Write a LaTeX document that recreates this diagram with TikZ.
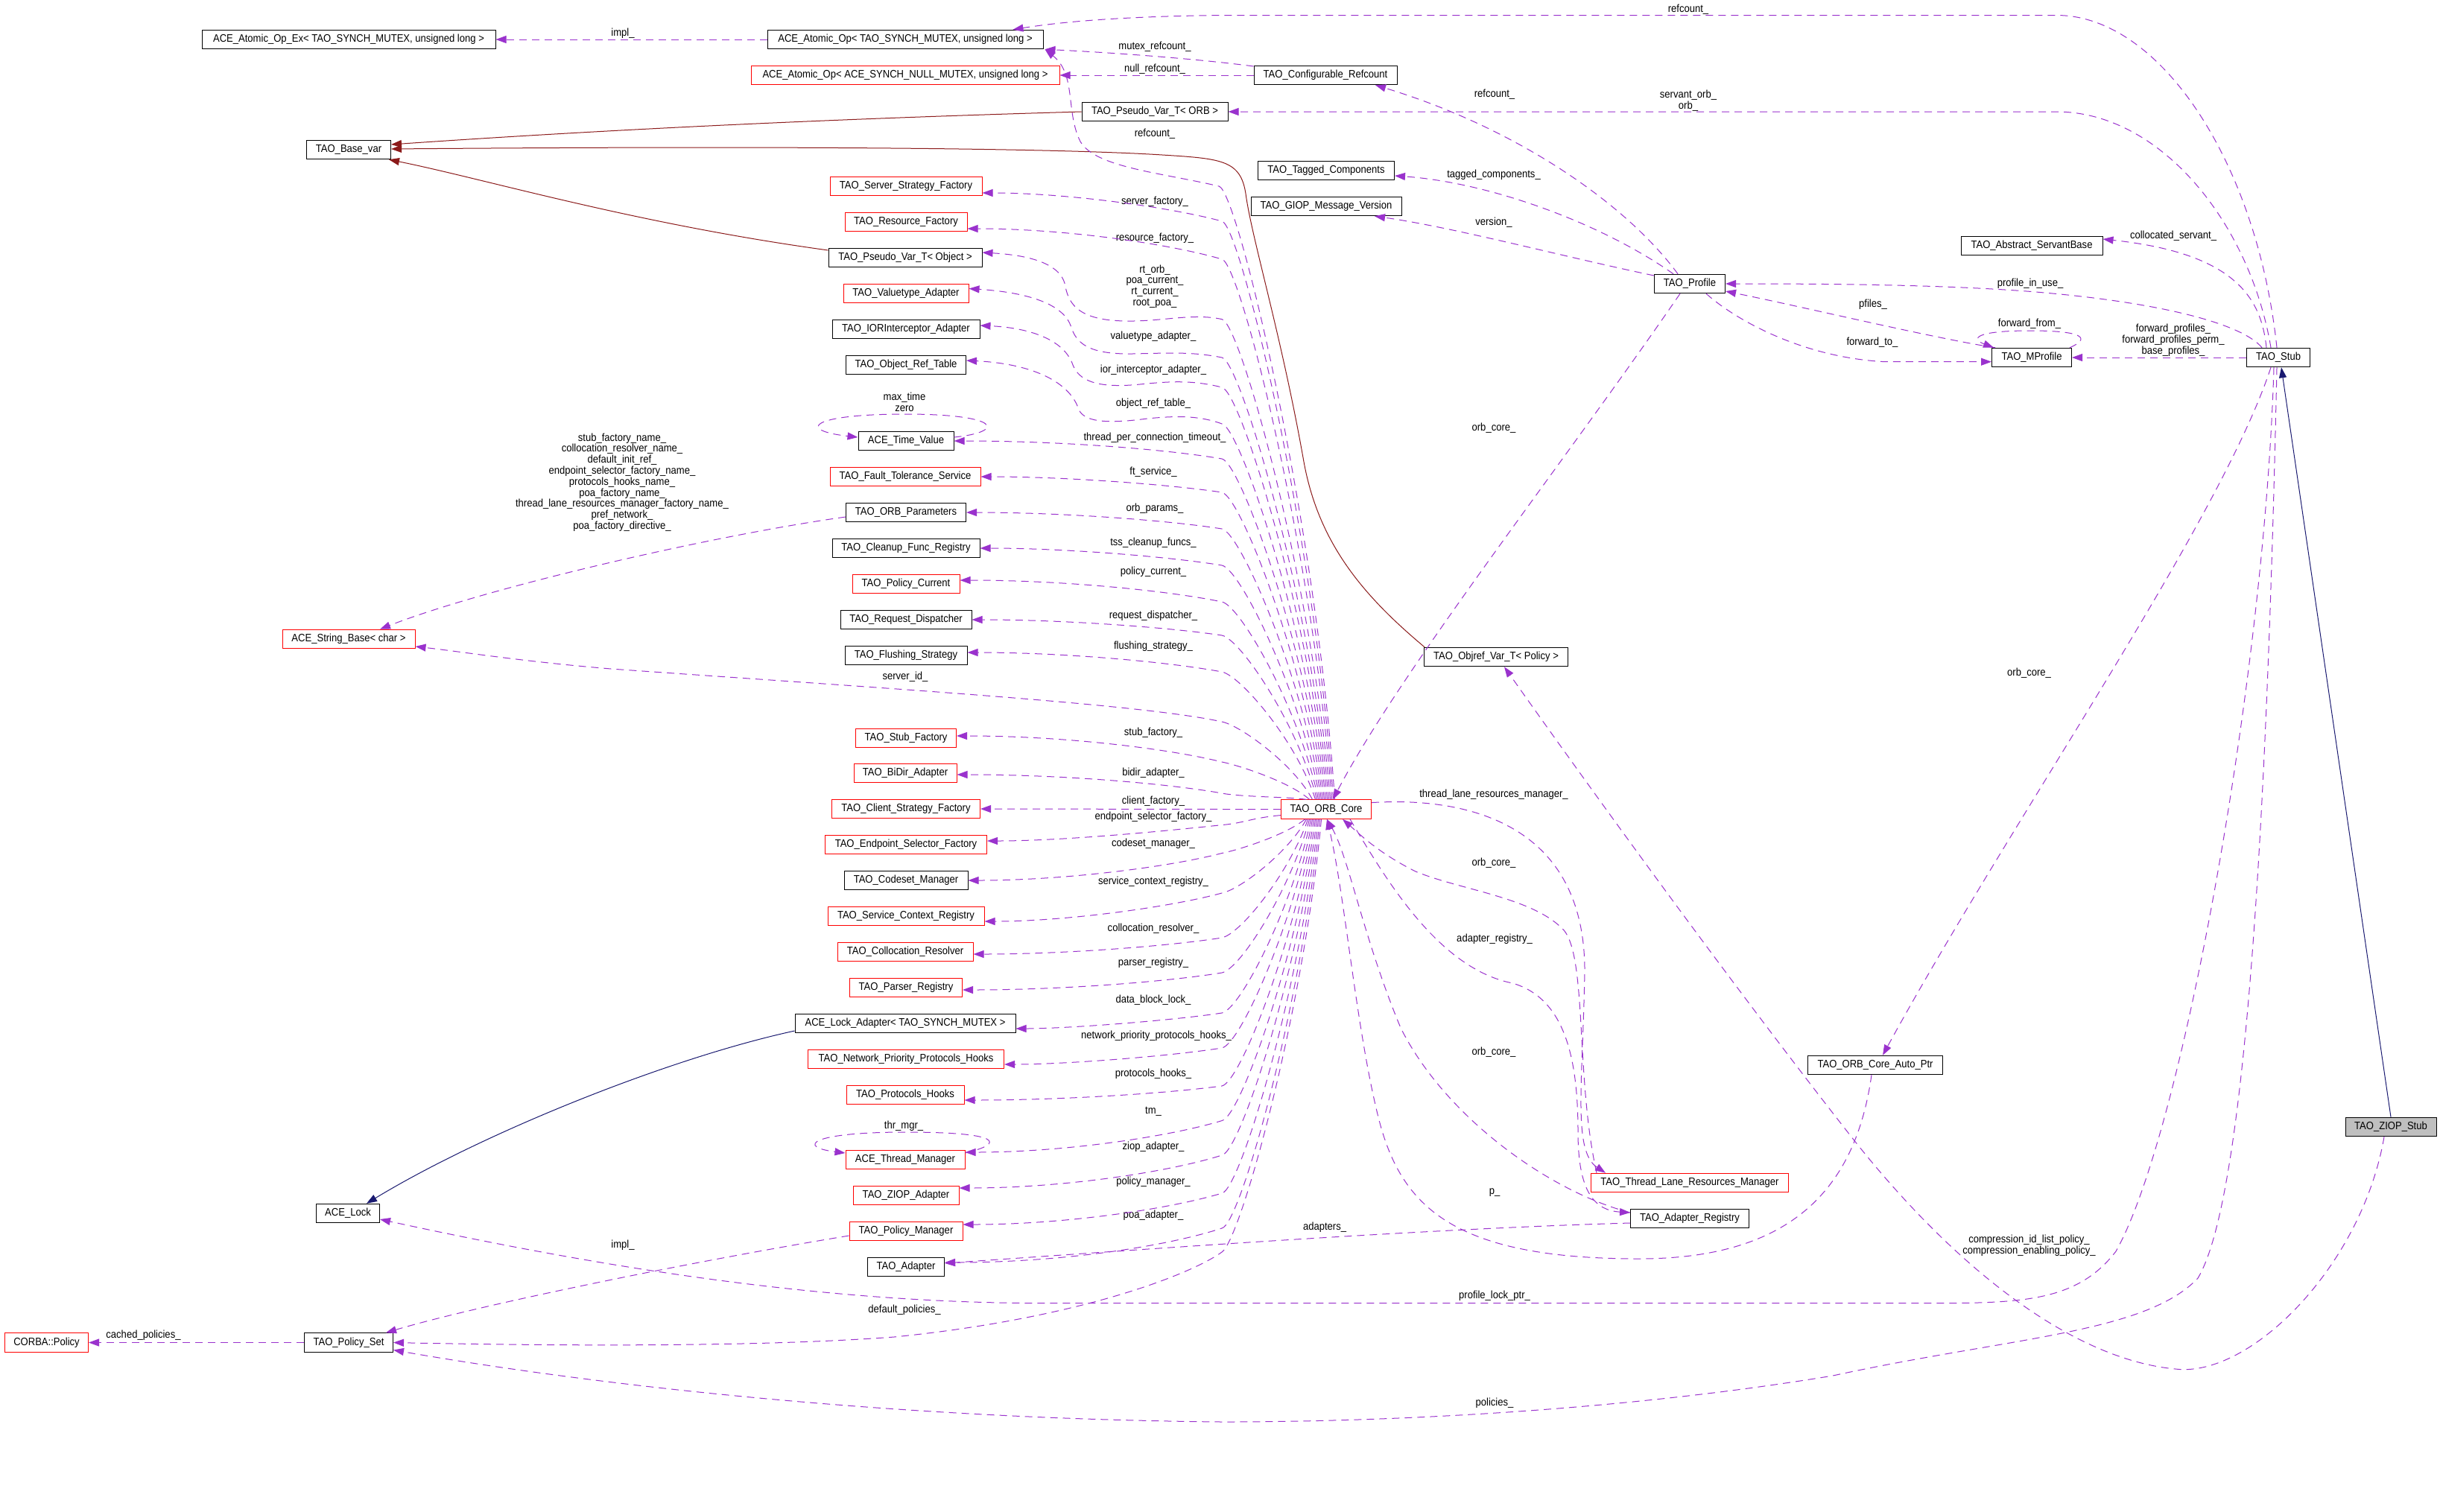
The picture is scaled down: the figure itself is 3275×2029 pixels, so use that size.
\documentclass[tikz,border=0pt]{standalone}
\usepackage{fontspec}
\setmainfont{Liberation Sans}[FakeStretch=0.9]
\usetikzlibrary{arrows.meta,calc}
\definecolor{purp}{RGB}{154,50,205}
\definecolor{inh}{RGB}{25,25,112}
\definecolor{tmpl}{RGB}{139,26,26}
\newcommand\fanUp[5]{%
  \pgfmathsetmacro\fca{#3+0.55*(1073.7-#3)}%
  \pgfmathsetmacro\fcb{#3+5}%
  \pgfmathsetmacro\fcc{#3+0.5*(#5-#3)}%
  \pgfmathsetmacro\fcx{#2-25}%
  \pgfmathsetmacro\fox{#2-1719.5}%
  \draw[use] ($(orb.north west)+(\fox,0)$) .. controls (\fcx,\fca) and (1665,\fcb) .. (1640,#3) .. controls (1570,\fcc) and (1430,#5) .. ([yshift=#4pt]#1.east);}
\newcommand\fanDn[5]{%
  \pgfmathsetmacro\fca{#3-0.55*(#3-1099.6)}%
  \pgfmathsetmacro\fcb{#3-5}%
  \pgfmathsetmacro\fcc{#3+0.5*(#5-#3)}%
  \pgfmathsetmacro\fcx{#2-25}%
  \pgfmathsetmacro\fox{#2-1719.5}%
  \draw[use] ($(orb.south west)+(\fox,0)$) .. controls (\fcx,\fca) and (1665,\fcb) .. (1640,#3) .. controls (1570,\fcc) and (1430,#5) .. ([yshift=#4pt]#1.east);}
\begin{document}
\begin{tikzpicture}[x=1pt,y=-1pt, font=\fontsize{14.5}{14.8}\selectfont,
 box/.style={draw=black, line width=1pt, minimum height=25.5pt, inner xsep=4pt, inner ysep=1pt},
 rbox/.style={box, draw=red},
 gbox/.style={box, fill=black!25},
 lbl/.style={inner sep=0pt, align=center},
 use/.style={draw=purp, line width=1pt, dash pattern=on 10pt off 7pt, -{Triangle[length=14pt,width=10pt]}},
 inhe/.style={draw=inh, line width=1pt, -{Triangle[length=14pt,width=10pt]}},
 tpl/.style={draw=tmpl, line width=1pt, -{Triangle[length=14pt,width=10pt]}}]
\path[fill=white] (0,0) rectangle (3275,2029);
\useasboundingbox (0,0) rectangle (3275,2029);
% ---------- nodes ----------
\node[box, minimum width=394pt] (aopex) at (468,53) {ACE\_Atomic\_Op\_Ex< TAO\_SYNCH\_MUTEX, unsigned long >};
\node[box, minimum width=370pt] (aop) at (1215,53) {ACE\_Atomic\_Op< TAO\_SYNCH\_MUTEX, unsigned long >};
\node[rbox, minimum width=414pt] (aopnull) at (1215,101) {ACE\_Atomic\_Op< ACE\_SYNCH\_NULL\_MUTEX, unsigned long >};
\node[box, minimum width=113pt] (basevar) at (468,201) {TAO\_Base\_var};
\node[box, minimum width=196pt] (pvorb) at (1550,150) {TAO\_Pseudo\_Var\_T< ORB >};
\node[box, minimum width=192pt] (cfgref) at (1779,101) {TAO\_Configurable\_Refcount};
\node[box, minimum width=183pt] (tagged) at (1780,229) {TAO\_Tagged\_Components};
\node[box, minimum width=202pt] (giop) at (1780,277) {TAO\_GIOP\_Message\_Version};
\node[box, minimum width=95pt] (profile) at (2268,381) {TAO\_Profile};
\node[box, minimum width=190pt] (servant) at (2727,330) {TAO\_Abstract\_ServantBase};
\node[box, minimum width=107pt] (mprofile) at (2727,480) {TAO\_MProfile};
\node[box, minimum width=85pt] (stub) at (3058,480) {TAO\_Stub};
\node[rbox, minimum width=204pt] (ssf) at (1216,250) {TAO\_Server\_Strategy\_Factory};
\node[rbox, minimum width=164pt] (rf) at (1216,298) {TAO\_Resource\_Factory};
\node[box, minimum width=206pt] (pvobj) at (1215,346) {TAO\_Pseudo\_Var\_T< Object >};
\node[rbox, minimum width=168pt] (vta) at (1216,394) {TAO\_Valuetype\_Adapter};
\node[box, minimum width=198pt] (iora) at (1216,442) {TAO\_IORInterceptor\_Adapter};
\node[box, minimum width=161pt] (ort) at (1216,490) {TAO\_Object\_Ref\_Table};
\node[box, minimum width=128pt] (atv) at (1216,592) {ACE\_Time\_Value};
\node[rbox, minimum width=202pt] (fts) at (1215,640) {TAO\_Fault\_Tolerance\_Service};
\node[box, minimum width=161pt] (orbp) at (1216,688) {TAO\_ORB\_Parameters};
\node[box, minimum width=198pt] (cfr) at (1216,736) {TAO\_Cleanup\_Func\_Registry};
\node[rbox, minimum width=144pt] (pcur) at (1216,784) {TAO\_Policy\_Current};
\node[box, minimum width=176pt] (rd) at (1216,832) {TAO\_Request\_Dispatcher};
\node[box, minimum width=164pt] (fs) at (1216,880) {TAO\_Flushing\_Strategy};
\node[rbox, minimum width=178pt] (sbase) at (468,858) {ACE\_String\_Base< char >};
\node[rbox, minimum width=135pt] (stf) at (1216,991) {TAO\_Stub\_Factory};
\node[rbox, minimum width=138pt] (bidir) at (1215,1038) {TAO\_BiDir\_Adapter};
\node[rbox, minimum width=199pt] (csf) at (1216,1086) {TAO\_Client\_Strategy\_Factory};
\node[rbox, minimum width=217pt] (esf) at (1216,1134) {TAO\_Endpoint\_Selector\_Factory};
\node[box, minimum width=166pt] (csm) at (1216,1182) {TAO\_Codeset\_Manager};
\node[rbox, minimum width=210pt] (scr) at (1216,1230) {TAO\_Service\_Context\_Registry};
\node[rbox, minimum width=182pt] (cres) at (1215,1278) {TAO\_Collocation\_Resolver};
\node[rbox, minimum width=151pt] (preg) at (1216,1326) {TAO\_Parser\_Registry};
\node[box, minimum width=296pt] (lad) at (1215,1374) {ACE\_Lock\_Adapter< TAO\_SYNCH\_MUTEX >};
\node[rbox, minimum width=263pt] (nph) at (1216,1422) {TAO\_Network\_Priority\_Protocols\_Hooks};
\node[rbox, minimum width=158pt] (ph) at (1215,1470) {TAO\_Protocols\_Hooks};
\node[rbox, minimum width=160pt] (atm) at (1215,1557) {ACE\_Thread\_Manager};
\node[rbox, minimum width=142pt] (ziopa) at (1216,1605) {TAO\_ZIOP\_Adapter};
\node[rbox, minimum width=152pt] (pm) at (1216,1653) {TAO\_Policy\_Manager};
\node[box, minimum width=103pt] (adapter) at (1216,1701) {TAO\_Adapter};
\node[box, minimum width=85pt] (lock) at (467,1629) {ACE\_Lock};
\node[box, minimum width=119pt] (pset) at (468,1802.5) {TAO\_Policy\_Set};
\node[rbox, minimum width=112pt] (cpol) at (62.5,1802.5) {CORBA::Policy};
\node[rbox, minimum width=121pt] (orb) at (1780,1086.6) {TAO\_ORB\_Core};
\node[box, minimum width=193pt] (objref) at (2008,882) {TAO\_Objref\_Var\_T< Policy >};
\node[rbox, minimum width=265pt] (tlrm) at (2268,1588) {TAO\_Thread\_Lane\_Resources\_Manager};
\node[box, minimum width=159pt] (areg) at (2268,1636) {TAO\_Adapter\_Registry};
\node[box, minimum width=181pt] (autop) at (2517,1430) {TAO\_ORB\_Core\_Auto\_Ptr};
\node[gbox, minimum width=122pt] (ziops) at (3209,1513) {TAO\_ZIOP\_Stub};
% ---------- labels ----------
\node[lbl] (l1) at (836,45) {impl\_};
\node[lbl] (l2) at (1550,62.5) {mutex\_refcount\_};
\node[lbl] (l3) at (1550,92.4) {null\_refcount\_};
\node[lbl] (l4) at (1550,180) {refcount\_};
\node[lbl] (l5) at (2266,12.5) {refcount\_};
\node[lbl] (l6) at (2006,127) {refcount\_};
\node[lbl] (l7) at (2266,135) {servant\_orb\_\\orb\_};
\node[lbl] (l8) at (2005,235) {tagged\_components\_};
\node[lbl] (l9) at (2005,298.7) {version\_};
\node[lbl] (l10) at (2005,574.5) {orb\_core\_};
\node[lbl] (l11) at (2917,316.5) {collocated\_servant\_};
\node[lbl] (l12) at (2725,381) {profile\_in\_use\_};
\node[lbl] (l13) at (2514,408.5) {pfiles\_};
\node[lbl] (l14) at (2724,435) {forward\_from\_};
\node[lbl] (l15) at (2513,460) {forward\_to\_};
\node[lbl] (l16) at (2917,456.7) {forward\_profiles\_\\forward\_profiles\_perm\_\\base\_profiles\_};
\node[lbl] (l17) at (1550,271) {server\_factory\_};
\node[lbl] (l18) at (1550,319.6) {resource\_factory\_};
\node[lbl] (l19) at (1550,384.6) {rt\_orb\_\\poa\_current\_\\rt\_current\_\\root\_poa\_};
\node[lbl] (l20) at (1548,452) {valuetype\_adapter\_};
\node[lbl] (l21) at (1548,497) {ior\_interceptor\_adapter\_};
\node[lbl] (l22) at (1548,542) {object\_ref\_table\_};
\node[lbl] (l23) at (1214,540) {max\_time\\zero};
\node[lbl] (l24) at (1550,587.5) {thread\_per\_connection\_timeout\_};
\node[lbl] (l25) at (1548,634) {ft\_service\_};
\node[lbl] (l26) at (1550,683) {orb\_params\_};
\node[lbl] (l27) at (835,647.5) {stub\_factory\_name\_\\collocation\_resolver\_name\_\\default\_init\_ref\_\\endpoint\_selector\_factory\_name\_\\protocols\_hooks\_name\_\\poa\_factory\_name\_\\thread\_lane\_resources\_manager\_factory\_name\_\\pref\_network\_\\poa\_factory\_directive\_};
\node[lbl] (l28) at (1548,728.6) {tss\_cleanup\_funcs\_};
\node[lbl] (l29) at (1548,768) {policy\_current\_};
\node[lbl] (l30) at (1548,826.8) {request\_dispatcher\_};
\node[lbl] (l31) at (1548,868) {flushing\_strategy\_};
\node[lbl] (l32) at (1215,908.5) {server\_id\_};
\node[lbl] (l33) at (1548,983.5) {stub\_factory\_};
\node[lbl] (l34) at (1548,1038) {bidir\_adapter\_};
\node[lbl] (l35) at (1548,1076) {client\_factory\_};
\node[lbl] (l36) at (1548,1096.4) {endpoint\_selector\_factory\_};
\node[lbl] (l37) at (1548,1132.6) {codeset\_manager\_};
\node[lbl] (l38) at (1548,1183.5) {service\_context\_registry\_};
\node[lbl] (l39) at (1548,1246.4) {collocation\_resolver\_};
\node[lbl] (l40) at (1548,1293) {parser\_registry\_};
\node[lbl] (l41) at (1548,1342.3) {data\_block\_lock\_};
\node[lbl] (l42) at (1552,1391) {network\_priority\_protocols\_hooks\_};
\node[lbl] (l43) at (1548,1442) {protocols\_hooks\_};
\node[lbl] (l44) at (1213,1511.5) {thr\_mgr\_};
\node[lbl] (l45) at (1548,1492.5) {tm\_};
\node[lbl] (l46) at (1548,1540) {ziop\_adapter\_};
\node[lbl] (l47) at (1548,1587) {policy\_manager\_};
\node[lbl] (l48) at (1548,1631.5) {poa\_adapter\_};
\node[lbl] (l49) at (836,1672) {impl\_};
\node[lbl] (l50) at (1214,1759) {default\_policies\_};
\node[lbl] (l51) at (192.5,1792.3) {cached\_policies\_};
\node[lbl] (l52) at (2005,1066.5) {thread\_lane\_resources\_manager\_};
\node[lbl] (l53) at (2005,1158.5) {orb\_core\_};
\node[lbl] (l54) at (2006,1260.7) {adapter\_registry\_};
\node[lbl] (l55) at (2005,1412.5) {orb\_core\_};
\node[lbl] (l56) at (2006,1601) {p\_};
\node[lbl] (l57) at (1778,1648) {adapters\_};
\node[lbl] (l58) at (2006,1740) {profile\_lock\_ptr\_};
\node[lbl] (l59) at (2006,1883.5) {policies\_};
\node[lbl] (l60) at (2723.5,903.6) {orb\_core\_};
\node[lbl] (l61) at (2723.5,1672.5) {compression\_id\_list\_policy\_\\compression\_enabling\_policy\_};
% ---------- top area edges ----------
\draw[use] (aop.west) -- (aopex.east);
\draw[use] ([yshift=12pt]cfgref.west) .. controls (1600,78) and (1480,70) .. ([xshift=2pt]aop.south east);
\draw[use] (cfgref.west) -- (aopnull.east);
\draw[use] ([xshift=-2pt]stub.north) .. controls (3030,220) and (2900,20.5) .. (2760,20.5) -- (1640,20.5) .. controls (1500,22) and (1420,30) .. ([xshift=-41pt]aop.north east);
\draw[use] ([xshift=-10pt]stub.north) .. controls (3020,300) and (2900,150) .. (2760,150) -- (pvorb.east);
\draw[use] ([xshift=-16pt]stub.north) .. controls (3035,400) and (3000,340) .. ([yshift=9pt]servant.east);
\draw[use] ([xshift=-22pt]stub.north) .. controls (3010,435) and (2900,405) .. (2720,391) .. controls (2600,382) and (2450,381) .. (profile.east);
\draw[use] (stub.west) -- (mprofile.east);
\draw[use] ([xshift=5pt]mprofile.north west) .. controls (2600,455) and (2420,412) .. ([yshift=-10pt]profile.east);
\draw[use] ([xshift=22pt]profile.south) .. controls (2330,430) and (2420,480) .. (2530,485.7) -- ([yshift=-5.7pt]mprofile.west);
\draw[use] ([xshift=-3pt]mprofile.north east) .. controls (2805,455) and (2800,444) .. (2725,444) .. controls (2650,444) and (2645,455) .. ([xshift=3pt]mprofile.north west);
\draw[use] ([xshift=-16pt]profile.north) .. controls (2180,270) and (2030,170) .. ([xshift=67pt]cfgref.south);
\draw[use] ([xshift=-22pt]profile.north) .. controls (2150,300) and (2000,245) .. ([yshift=-7pt]tagged.east);
\draw[use] ([yshift=11pt]profile.west) .. controls (2100,345) and (1950,305) .. ([xshift=65pt]giop.south);
\draw[use] ([xshift=-13pt]profile.south) .. controls (2100,620) and (1880,900) .. ([xshift=9pt]orb.north);
% template edges
\draw[tpl] (pvorb.west) .. controls (1100,160) and (800,175) .. ([yshift=7pt]basevar.east);
\draw[tpl] ([xshift=-96pt]objref.north) .. controls (1830,800) and (1770,730) .. (1750,620) .. controls (1720,450) and (1680,320) .. (1672,260) .. controls (1665,215) and (1640,213) .. (1560,208) .. controls (1400,198) and (1000,196) .. ([yshift=1pt]basevar.east);
\draw[tpl] ([yshift=10pt]pvobj.west) .. controls (850,300) and (650,240) .. ([xshift=-3pt]basevar.south east);
% ---------- ORB core fan (up) ----------
\draw[use] ($(orb.north west)+(72.5,0)$) .. controls (1767,703) and (1661,255) .. (1636,250) .. controls (1560,232) and (1470,225) .. (1450,190) .. controls (1430,150) and (1445,100) .. ([xshift=2pt]aop.south east);
\fanUp{ssf}{1790}{297}{-9}{259}
\fanUp{rf}{1788}{348}{-9}{307}
\draw[use] ($(orb.north west)+(66.5,0)$) .. controls (1761,783) and (1665,433.6) .. (1640,428.6) .. controls (1600,420) and (1560,432) .. (1510,431) .. controls (1450,430) and (1435,410) .. (1430,385) .. controls (1425,350) and (1370,342) .. ([yshift=7pt]pvobj.east);
\draw[use] ($(orb.north west)+(64.5,0)$) .. controls (1759,806) and (1665,485) .. (1640,480) .. controls (1600,472) and (1570,474) .. (1520,475) .. controls (1460,476) and (1445,460) .. (1438,440) .. controls (1428,405) and (1370,392) .. ([yshift=6.5pt]vta.east);
\draw[use] ($(orb.north west)+(62.5,0)$) .. controls (1757,824.5) and (1665,525) .. (1640,520) .. controls (1600,510) and (1570,512) .. (1530,516) .. controls (1470,522) and (1448,510) .. (1440,490) .. controls (1428,455) and (1380,440) .. ([yshift=5pt]iora.east);
\draw[use] ($(orb.north west)+(60.5,0)$) .. controls (1755,846.6) and (1665,574) .. (1640,569) .. controls (1610,558) and (1580,558) .. (1540,562) .. controls (1480,570) and (1455,565) .. (1448,550) .. controls (1435,510) and (1380,488) .. ([yshift=6pt]ort.east);
\fanUp{atv}{1778}{616}{0}{592}
\fanUp{fts}{1776}{661}{0}{640}
\fanUp{orbp}{1774}{710}{0}{688}
\fanUp{cfr}{1772}{759}{0}{736}
\fanUp{pcur}{1770}{808}{5}{779}
\fanUp{rd}{1768}{853}{0}{832}
\fanUp{fs}{1766}{902}{4}{876}
\draw[use] ($(orb.north west)+(42.5,0)$) .. controls (1737,1026.6) and (1665,974) .. (1640,969) .. controls (1530,945) and (1200,925) .. (820,898) .. controls (700,888) and (620,875) .. ([yshift=-10pt]sbase.east);
\fanUp{stf}{1758}{1023}{3}{988}
\fanUp{bidir}{1754}{1065}{-2}{1040}
\draw[use] (orb.west) -- (csf.east);
% ---------- ORB core fan (down) ----------
\draw[use] ([yshift=-8pt]orb.west) .. controls (1680,1098) and (1670,1105) .. (1640,1107.6) .. controls (1570,1115) and (1430,1129) .. ([yshift=5pt]esf.east);
\fanDn{csm}{1752}{1145.5}{0}{1182}
\fanDn{scr}{1754}{1199}{-7}{1237}
\fanDn{cres}{1756}{1259}{-3}{1281}
\fanDn{preg}{1758}{1306}{-3}{1329}
\fanDn{lad}{1760}{1360}{-7}{1381}
\fanDn{nph}{1762}{1407}{-7}{1429}
\fanDn{ph}{1764}{1458}{-7}{1477}
\fanDn{atm}{1766}{1504.6}{10}{1547}
\fanDn{ziopa}{1768}{1551}{10}{1595}
\fanDn{pm}{1770}{1602}{9}{1644}
\fanDn{adapter}{1772}{1649}{6}{1695}
\draw[use] ($(orb.south west)+(54.5,0)$) .. controls (1749,1361) and (1665,1665) .. (1640,1681) .. controls (1600,1710) and (1450,1770) .. (1200,1795) .. controls (1000,1810) and (700,1806) .. (pset.east);
% ---------- left side ----------
\draw[use] ([yshift=-6pt]orbp.west) .. controls (950,720) and (650,790) .. ([xshift=42pt]sbase.north);
\draw[use] ([yshift=-6pt]pm.west) .. controls (950,1690) and (650,1750) .. ([xshift=50pt]pset.north);
\draw[use] (pset.west) -- (cpol.east);
\draw[inhe] ([yshift=-10pt]lad.west) .. controls (900,1420) and (650,1520) .. ([xshift=25pt]lock.north);
\draw[use] ([yshift=5pt]atv.east) .. controls (1350,580) and (1345,556) .. (1215,556) .. controls (1085,556) and (1070,578) .. ([yshift=5pt]atv.west);
\draw[use] ([yshift=9pt]atm.east) .. controls (1350,1535) and (1345,1520) .. (1215,1520) .. controls (1085,1520) and (1070,1540) .. ([yshift=9pt]atm.west);
% ---------- right side ----------
\draw[use] ([yshift=9pt]orb.east) .. controls (1960,1070) and (2125,1100) .. (2127,1300) .. controls (2125,1450) and (2110,1545) .. ([xshift=-113pt]tlrm.north);
\draw[use] ([xshift=-125pt]tlrm.north) .. controls (2115,1450) and (2130,1290) .. (2100,1250) .. controls (2060,1205) and (1960,1195) .. (1900,1170) .. controls (1850,1145) and (1825,1120) .. ([xshift=22pt]orb.south);
\draw[use] ([xshift=32pt]orb.south) .. controls (1860,1180) and (1930,1300) .. (2030,1320) .. controls (2100,1340) and (2118,1420) .. (2118,1520) .. controls (2118,1600) and (2140,1625) .. ([yshift=8pt]areg.west);
\draw[use] ([yshift=8pt]areg.west) .. controls (2080,1600) and (1940,1500) .. (1880,1380) .. controls (1830,1260) and (1810,1150) .. ([xshift=1pt]orb.south);
\draw[use] ([xshift=-5pt]autop.south) .. controls (2490,1600) and (2400,1690) .. (2200,1690) .. controls (1950,1690) and (1880,1620) .. (1850,1500) .. controls (1820,1380) and (1805,1200) .. ([xshift=1pt]orb.south);
\draw[use] ([yshift=-6pt]areg.west) .. controls (1900,1650) and (1500,1680) .. ([yshift=5pt]adapter.east);
\draw[use] ([xshift=-10pt]stub.south) .. controls (2980,700) and (2700,1100) .. ([xshift=10pt]autop.north);
\draw[use] ([xshift=-6pt]stub.south) .. controls (3040,900) and (2930,1520) .. (2840,1680) .. controls (2790,1745) and (2720,1749.6) .. (2600,1749.6) -- (1400,1749.6) .. controls (1100,1749.6) and (800,1700) .. ([yshift=-8pt]lock.east);
\draw[use] ([xshift=-2pt]stub.south) .. controls (3045,1000) and (3020,1600) .. (2950,1716) .. controls (2880,1790) and (2700,1795) .. (2460,1847) .. controls (2200,1890) and (1900,1909) .. (1640,1909) .. controls (1200,1905) and (800,1860) .. ([yshift=-10pt]pset.east);
\draw[use] ([xshift=-9pt]ziops.south) .. controls (3170,1700) and (3020,1850) .. (2920,1838) .. controls (2780,1825) and (2620,1700) .. (2480,1520) .. controls (2300,1290) and (2100,1010) .. ([xshift=11pt]objref.south);
\draw[inhe] (ziops.north) -- ([xshift=4pt]stub.south);
\end{tikzpicture}
\end{document}
